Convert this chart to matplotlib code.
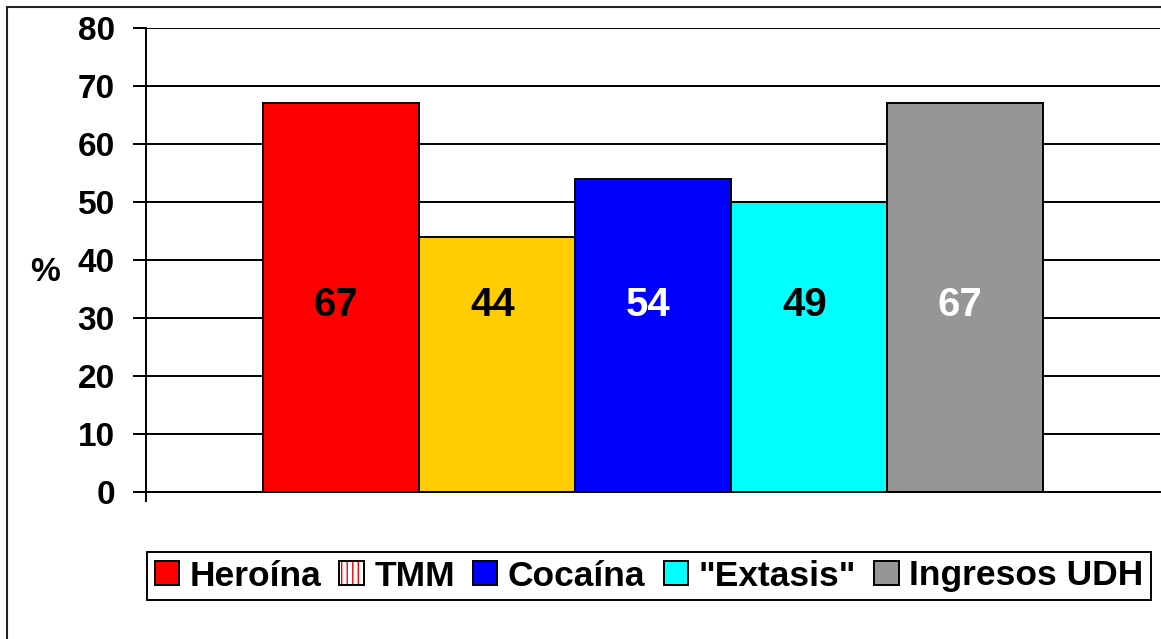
import matplotlib
matplotlib.use("Agg")
import matplotlib.pyplot as plt
from matplotlib.patches import Patch, Rectangle
from matplotlib.legend_handler import HandlerTuple

# data
categories = ["Heroína", "TMM", "Cocaína", '"Extasis"', "Ingresos UDH"]
values = [67, 44, 54, 50, 67]
value_labels = ["67", "44", "54", "49", "67"]
bar_colors = ["#FF0000", "#FFCC00", "#0000FF", "#00FFFF", "#969696"]
label_colors = ["black", "black", "white", "black", "white"]
yticks = [0, 10, 20, 30, 40, 50, 60, 70, 80]

plt.rcParams['font.family'] = ['Liberation Sans', 'DejaVu Sans']
plt.rcParams['font.weight'] = 'bold'

fig = plt.figure(figsize=(11.61, 6.39), dpi=100)
ax = fig.add_axes([146 / 1161, 1 - 492 / 639, 1014 / 1161, 464 / 639])

x = list(range(len(values)))
bars = ax.bar(x, values, width=1.0, color=bar_colors, edgecolor="black",
              linewidth=1.4, zorder=3)

for xi, lab, col in zip(x, value_labels, label_colors):
    ax.text(xi - 0.03, 32.3, lab, ha="center", va="center", fontsize=29,
            fontweight="bold", color=col, zorder=4)

ax.set_xlim(-1.25, 5.25)
ax.set_ylim(0, 80)
ax.set_yticks(yticks)
ax.set_yticklabels([str(t) for t in yticks], fontsize=24, fontweight="bold")
ax.yaxis.grid(True, color="black", linewidth=1.4, zorder=0)
ax.set_axisbelow(True)
ax.tick_params(axis="y", direction="out", length=9.5, width=1.4, pad=13)
ax.set_xticks([-1.25])
ax.set_xticklabels([""])
ax.tick_params(axis="x", direction="out", length=7, width=1.4)

for s in ["top", "right"]:
    ax.spines[s].set_visible(False)
for s in ["left", "bottom"]:
    ax.spines[s].set_linewidth(1.4)
    ax.spines[s].set_zorder(5)

ax.set_ylabel("%", rotation=0, fontsize=24, fontweight="bold", ha="center", va="center")
ax.yaxis.set_label_coords(-0.0996, 0.474)

# legend: TMM shown as white box with red stripes
handles = []
for i, c in enumerate(bar_colors):
    if i == 1:
        h = (Patch(facecolor="white", edgecolor="red", hatch="|||", linewidth=0),
             Patch(facecolor="none", edgecolor="black", linewidth=1.4))
    else:
        h = Patch(facecolor=c, edgecolor="black", linewidth=1.4)
    handles.append(h)

leg = fig.legend(handles, categories, loc="center",
                 bbox_to_anchor=(649 / 1161, 1 - 576 / 639), ncol=5,
                 fontsize=25.5, frameon=True, fancybox=False, edgecolor="black",
                 framealpha=1, handlelength=0.68, handleheight=0.68,
                 handletextpad=0.3, columnspacing=0.52, borderpad=0.22,
                 handler_map={tuple: HandlerTuple(ndivide=1)})
leg.get_frame().set_linewidth(1.4)
for t in leg.get_texts():
    t.set_fontweight("bold")

# outer chart border
fig.patches.append(Rectangle((7 / 1161, -0.05), 1.1, 1 - 7 / 639 + 0.05,
                             transform=fig.transFigure, fill=False,
                             edgecolor="#222222", linewidth=1.5))

fig.savefig("out.png", dpi=100)
